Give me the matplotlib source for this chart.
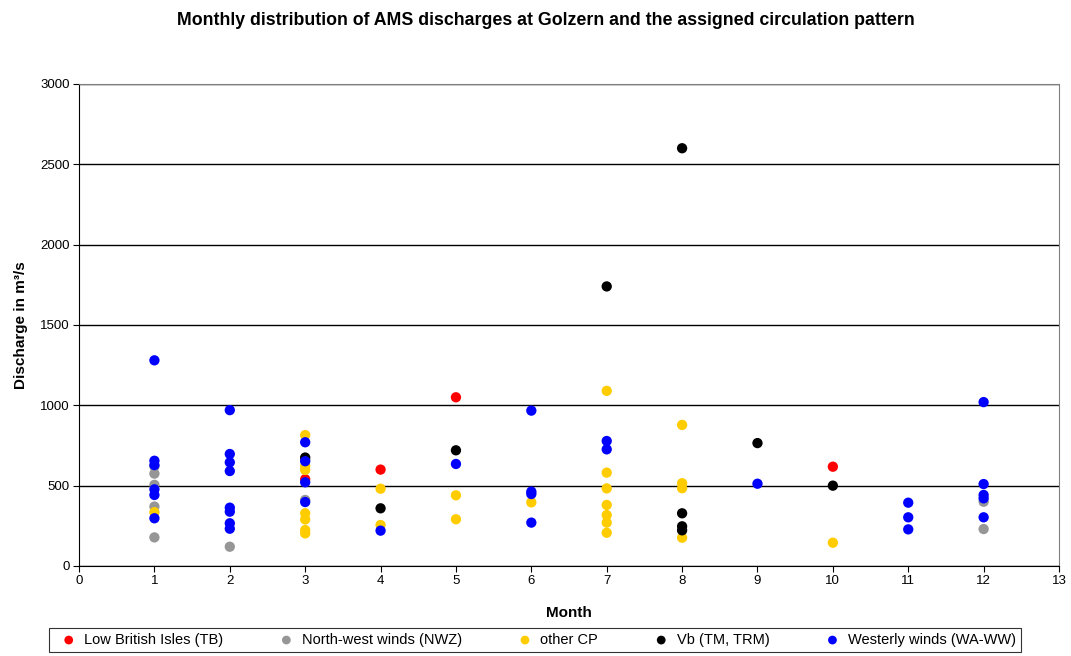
import matplotlib.pyplot as plt

plt.rcParams['font.family'] = ['Liberation Sans', 'DejaVu Sans']

# month / discharge (m3/s) for each circulation pattern group
tb_month = [3, 4, 5, 10]
tb_q = [540, 600, 1050, 618]

nwz_month = [1, 1, 1, 1, 1, 2, 3, 3, 12, 12]
nwz_q = [620, 575, 505, 370, 178, 120, 411, 660, 400, 230]

cp_month = [1, 3, 3, 3, 3, 3, 3, 3, 4, 4, 5, 5, 6,
            7, 7, 7, 7, 7, 7, 7, 8, 8, 8, 8, 10]
cp_q = [335, 815, 622, 598, 328, 290, 224, 203, 481, 255, 440, 291, 396,
        1090, 581, 483, 380, 317, 270, 207, 878, 515, 484, 176, 145]

vb_month = [3, 4, 5, 7, 8, 8, 8, 8, 9, 10]
vb_q = [675, 359, 720, 1740, 2600, 328, 247, 222, 765, 500]

ww_month = [1, 1, 1, 1, 1, 1, 2, 2, 2, 2, 2, 2, 2, 2, 3, 3, 3, 3, 4, 5,
            6, 6, 6, 6, 7, 7, 9, 11, 11, 11, 12, 12, 12, 12, 12]
ww_q = [1280, 655, 628, 477, 442, 297, 970, 697, 645, 591, 363, 338, 266, 232,
        770, 652, 521, 398, 220, 635, 967, 463, 448, 270, 778, 726, 512,
        394, 303, 228, 1020, 510, 442, 421, 303]

groups = [
    ("Low British Isles (TB)", tb_month, tb_q, "#ff0000"),
    ("North-west winds (NWZ)", nwz_month, nwz_q, "#969696"),
    ("other CP", cp_month, cp_q, "#ffcc00"),
    ("Vb (TM, TRM)", vb_month, vb_q, "#000000"),
    ("Westerly winds (WA-WW)", ww_month, ww_q, "#0000ff"),
]

fig = plt.figure(figsize=(10.71, 6.56), dpi=100)
ax = fig.add_axes([0.0738, 0.1372, 0.915, 0.7348])

for name, m, q, c in groups:
    ax.scatter(m, q, s=55, color=c, edgecolors='none', label=name, zorder=3)

ax.set_xlim(0, 13)
ax.set_ylim(0, 3000)
ax.set_xticks(range(0, 14))
ax.set_yticks(range(0, 3001, 500))
ax.yaxis.grid(True, color='black', lw=1)
ax.set_axisbelow(True)
for s in ['top', 'right']:
    ax.spines[s].set_color('#808080')
ax.tick_params(labelsize=9.5, direction='out', length=4, pad=2.5)

ax.set_xlabel("Month", fontsize=11, fontweight='bold', labelpad=14)
ax.set_ylabel("Discharge in m³/s", fontsize=11, fontweight='bold', labelpad=9)
fig.suptitle("Monthly distribution of AMS discharges at Golzern and the assigned circulation pattern",
             fontsize=12.8, fontweight='bold', y=0.982, x=0.51)

leg = fig.legend(loc='lower left', bbox_to_anchor=(0.039, -0.005, 0.921, 0.05),
                 ncol=5, mode='expand', fontsize=10.5, frameon=True, fancybox=False,
                 edgecolor='black', handletextpad=0.05, borderpad=0.35,
                 markerscale=0.85)
leg.get_frame().set_linewidth(0.8)

fig.savefig("out.png", dpi=100)
